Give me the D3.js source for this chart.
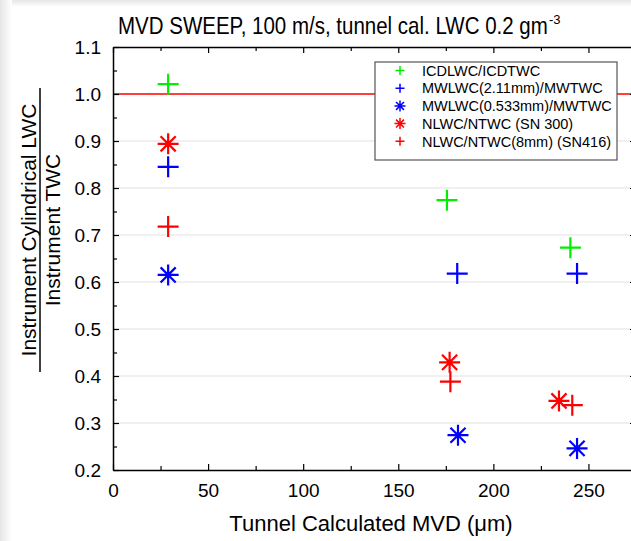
<!DOCTYPE html>
<html>
<head>
<meta charset="utf-8">
<script src="https://cdn.jsdelivr.net/npm/d3@7"></script>
<style>
  body { margin: 0; background: #fff; }
  svg { display: block; font-family: "Liberation Sans", Arial, sans-serif; }
</style>
</head>
<body>
<div id="chart"></div>
<script>
// tick values
var xTicks = [0, 50, 100, 150, 200, 250];
var yTicks = [0.2, 0.3, 0.4, 0.5, 0.6, 0.7, 0.8, 0.9, 1.0, 1.1];

// series (MVD in um, ratio)
var seriesNames = ["ICDLWC/ICDTWC", "MWLWC(2.11mm)/MWTWC", "MWLWC(0.533mm)/MWTWC", "NLWC/NTWC (SN 300)", "NLWC/NTWC(8mm) (SN416)"];
var seriesColors = ["#00ee00", "#0000ff", "#0000ff", "#ff0000", "#ff0000"];
var seriesShapes = ["plus", "plus", "star", "star", "plus"];

var icdMVD = [29, 175.6, 240.5];
var icdRatio = [1.021, 0.774, 0.673];
var mw211MVD = [29, 181, 244];
var mw211Ratio = [0.845, 0.618, 0.618];
var mw533MVD = [29, 181.4, 244];
var mw533Ratio = [0.615, 0.274, 0.246];
var sn300MVD = [29, 177, 234.5];
var sn300Ratio = [0.894, 0.429, 0.347];
var sn416MVD = [29, 177.4, 241.5];
var sn416Ratio = [0.718, 0.388, 0.338];

var allMVD = [icdMVD, mw211MVD, mw533MVD, sn300MVD, sn416MVD];
var allRatio = [icdRatio, mw211Ratio, mw533Ratio, sn300Ratio, sn416Ratio];

var W = 631, H = 541;
var margin = {top: 47, left: 113, bottom: 71, right: -5};

var svg = d3.select("#chart").append("svg")
  .attr("width", W)
  .attr("height", H);

// window shadow on the left and top edges
var defs = svg.append("defs");
var gl = defs.append("linearGradient").attr("id", "shL").attr("x1", 0).attr("x2", 1).attr("y1", 0).attr("y2", 0);
gl.append("stop").attr("offset", "0%").attr("stop-color", "#e6e6e6");
gl.append("stop").attr("offset", "100%").attr("stop-color", "#ffffff");
var gt = defs.append("linearGradient").attr("id", "shT").attr("x1", 0).attr("x2", 0).attr("y1", 0).attr("y2", 1);
gt.append("stop").attr("offset", "0%").attr("stop-color", "#e6e6e6");
gt.append("stop").attr("offset", "100%").attr("stop-color", "#ffffff");
svg.append("rect").attr("x", 0).attr("y", 0).attr("width", 12).attr("height", H).attr("fill", "url(#shL)");
svg.append("rect").attr("x", 12).attr("y", 0).attr("width", W - 12).attr("height", 7).attr("fill", "url(#shT)");

var x = d3.scaleLinear().domain([0, 275]).range([margin.left, W - margin.right]);
var y = d3.scaleLinear().domain([0.2, 1.1]).range([H - margin.bottom, margin.top]);

// gridlines
svg.append("g")
  .selectAll("line")
  .data(yTicks.filter(function(d) { return d > 0.25 && d < 0.95; }))
  .enter().append("line")
  .attr("x1", x(0)).attr("x2", x(275))
  .attr("y1", function(d) { return y(d); })
  .attr("y2", function(d) { return y(d); })
  .attr("stroke", "#e2e2e2")
  .attr("stroke-width", 1.2);

// reference line at 1.0
svg.append("line")
  .attr("x1", x(0)).attr("x2", x(275))
  .attr("y1", y(1.0)).attr("y2", y(1.0))
  .attr("stroke", "#ff0000")
  .attr("stroke-width", 1.5);

// axes: major ticks inward, minor ticks shorter
var xMinor = d3.range(25, 275, 50);
var yMinor = d3.range(0.25, 1.1, 0.1);

function tickGroup(axis, transform) {
  var g = svg.append("g").attr("transform", transform).call(axis);
  g.selectAll(".domain").attr("stroke", "#000").attr("stroke-width", 1.5);
  g.selectAll(".tick line").attr("stroke", "#000").attr("stroke-width", 1.2);
  return g;
}

var bottom = tickGroup(d3.axisBottom(x).tickValues(xTicks).tickSizeInner(-6).tickSizeOuter(0).tickPadding(14), "translate(0," + y(0.2) + ")");
bottom.selectAll("text").attr("font-size", 19).attr("fill", "#000");
tickGroup(d3.axisBottom(x).tickValues(xMinor).tickSizeInner(-4).tickSizeOuter(0).tickFormat(""), "translate(0," + y(0.2) + ")").select(".domain").remove();

tickGroup(d3.axisTop(x).tickValues(xTicks).tickSizeInner(-6).tickSizeOuter(0).tickFormat(""), "translate(0," + y(1.1) + ")");
tickGroup(d3.axisTop(x).tickValues(xMinor).tickSizeInner(-4).tickSizeOuter(0).tickFormat(""), "translate(0," + y(1.1) + ")").select(".domain").remove();

var left = tickGroup(d3.axisLeft(y).tickValues(yTicks).tickSizeInner(-6).tickSizeOuter(0).tickPadding(12).tickFormat(d3.format(".1f")), "translate(" + x(0) + ",0)");
left.selectAll("text").attr("font-size", 19).attr("fill", "#000");
tickGroup(d3.axisLeft(y).tickValues(yMinor).tickSizeInner(-4).tickSizeOuter(0).tickFormat(""), "translate(" + x(0) + ",0)").select(".domain").remove();

tickGroup(d3.axisRight(y).tickValues(yTicks).tickSizeInner(-6).tickSizeOuter(0).tickFormat(""), "translate(" + x(275) + ",0)");
tickGroup(d3.axisRight(y).tickValues(yMinor).tickSizeInner(-4).tickSizeOuter(0).tickFormat(""), "translate(" + x(275) + ",0)").select(".domain").remove();

// marker paths
function markerPath(shape, r) {
  if (shape === "plus") {
    return "M" + (-r) + ",0H" + r + "M0," + (-r) + "V" + r;
  }
  var d = r * 0.72;
  return "M" + (-r) + ",0H" + r + "M0," + (-r) + "V" + r +
    "M" + (-d) + "," + (-d) + "L" + d + "," + d +
    "M" + (-d) + "," + d + "L" + d + "," + (-d);
}

// points
seriesNames.forEach(function(name, i) {
  var pts = allMVD[i].map(function(v, j) { return [v, allRatio[i][j]]; });
  svg.append("g").selectAll("path")
    .data(pts)
    .enter().append("path")
    .attr("transform", function(d) { return "translate(" + x(d[0]) + "," + y(d[1]) + ")"; })
    .attr("d", markerPath(seriesShapes[i], 10.5))
    .attr("fill", "none")
    .attr("stroke", seriesColors[i])
    .attr("stroke-width", 2.2);
});

// legend
var legend = svg.append("g").attr("transform", "translate(375,62)");
legend.append("rect")
  .attr("width", 242).attr("height", 98)
  .attr("fill", "#fff")
  .attr("stroke", "#555")
  .attr("stroke-width", 1.2);
seriesNames.forEach(function(name, i) {
  var row = legend.append("g").attr("transform", "translate(0," + (8.5 + i * 17.7) + ")");
  row.append("path")
    .attr("transform", "translate(25,0)")
    .attr("d", markerPath(seriesShapes[i], seriesShapes[i] === "plus" ? 4.5 : 5.5))
    .attr("fill", "none")
    .attr("stroke", seriesColors[i])
    .attr("stroke-width", 1.5);
  row.append("text")
    .attr("x", 47)
    .attr("dy", "0.36em")
    .attr("font-size", 14.5)
    .attr("fill", "#000")
    .text(name);
});

// title, squeezed horizontally to match the narrow lettering
var titleG = svg.append("g");
var titleText = titleG.append("text")
  .attr("font-size", 24)
  .attr("fill", "#000")
  .text("MVD SWEEP, 100 m/s, tunnel cal. LWC 0.2 gm");
var tw = titleText.node().getComputedTextLength();
var sx = 430 / tw;
titleG.attr("transform", "translate(118,34) scale(" + sx + ",1)");
svg.append("text")
  .attr("x", 118 + 431).attr("y", 24)
  .attr("font-size", 13)
  .attr("fill", "#000")
  .text("-3");

// x axis title
svg.append("text")
  .attr("x", 371).attr("y", 531)
  .attr("text-anchor", "middle")
  .attr("font-size", 22)
  .attr("fill", "#000")
  .text("Tunnel Calculated MVD (\u03bcm)");

// y axis title as a fraction
var yl = svg.append("g").attr("transform", "translate(0,230) rotate(-90)");
yl.append("text")
  .attr("x", 0).attr("y", 36)
  .attr("text-anchor", "middle")
  .attr("font-size", 21)
  .attr("fill", "#000")
  .text("Instrument Cylindrical LWC");
yl.append("line")
  .attr("x1", -142).attr("x2", 142)
  .attr("y1", 40).attr("y2", 40)
  .attr("stroke", "#000")
  .attr("stroke-width", 1.5);
yl.append("text")
  .attr("x", 0).attr("y", 60)
  .attr("text-anchor", "middle")
  .attr("font-size", 21)
  .attr("fill", "#000")
  .text("Instrument TWC");
</script>
</body>
</html>
